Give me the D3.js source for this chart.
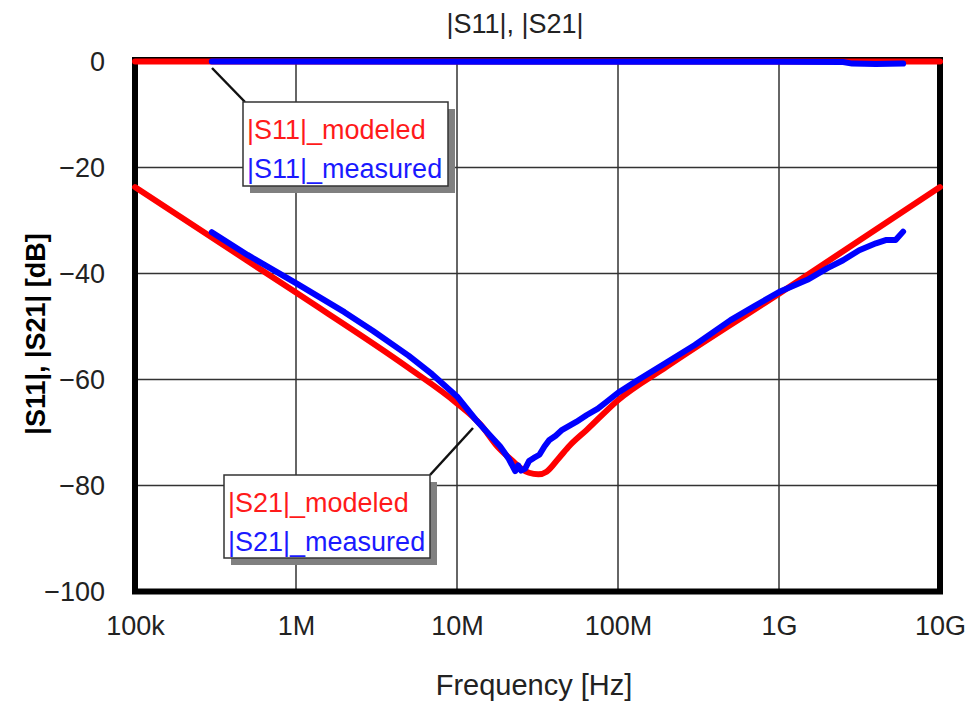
<!DOCTYPE html>
<html>
<head>
<meta charset="utf-8">
<script src="https://cdn.jsdelivr.net/npm/d3@7"></script>
<style>
  body { margin: 0; background: #fff; }
  text { font-family: "Liberation Sans", Arial, sans-serif; }
</style>
</head>
<body>
<div id="chart"></div>
<script>
// frequency ticks
let xTicks = [1e5, 1e6, 1e7, 1e8, 1e9, 1e10];
let xTickLabels = ['100k', '1M', '10M', '100M', '1G', '10G'];
let yTicks = [0, -20, -40, -60, -80, -100];

// |S11| modeled: flat at 0 dB
let s11ModFreq = [1e5, 1e10];
let s11ModDb = [0, 0];

// |S11| measured
let s11MeasFreq = [3e5, 1e9, 2.5e9, 2.85e9, 4e9, 5.9e9];
let s11MeasDb = [0, -0.05, -0.1, -0.4, -0.45, -0.4];

// |S21| modeled
let s21ModFreq = [1e5, 1e6, 5e6, 1e7, 1.4e7, 1.8e7, 2.2e7, 2.5e7, 2.8e7, 3.2e7, 3.6e7, 4.3e7, 5e7, 6.4e7, 1e8, 2e8, 1e9, 1e10];
let s21ModDb = [-23.7, -43.6, -57.8, -64.5, -68.5, -72.8, -75.3, -76.8, -77.6, -77.9, -77.4, -74.8, -72.5, -69.5, -63.9, -57.6, -43.8, -23.7];

// |S21| measured
let s21MeasFreq = [3e5, 5e5, 1e6, 2e6, 3e6, 5e6, 7e6, 1e7, 1.3e7, 1.6e7, 1.85e7, 2.1e7, 2.3e7, 2.4e7, 2.5e7, 2.65e7,
    2.8e7, 3.0e7, 3.25e7, 3.5e7, 3.75e7, 4.1e7, 4.5e7, 5.5e7, 6.4e7, 7.5e7, 8.5e7, 1e8, 1.3e8, 2e8, 3e8, 5e8, 7e8,
    1e9, 1.5e9, 2e9, 2.5e9, 3.15e9, 4e9, 4.6e9, 5.3e9, 5.9e9];
let s21MeasDb = [-32.2, -36.5, -41.8, -47.3, -50.8, -55.5, -59, -63.2, -67.5, -70.5, -72.6, -75, -77.3, -76.2, -77.2, -76.8,
    -75.4, -74.8, -74.2, -72.6, -71.4, -70.6, -69.5, -68, -66.7, -65.5, -64.2, -62.5, -60.3, -56.8, -53.5, -48.8, -46.2,
    -43.5, -41.2, -39, -37.5, -35.6, -34.3, -33.7, -33.7, -32.1];

let svg = d3.select('#chart')
    .append('svg')
    .attr('width', 970)
    .attr('height', 702);

let plotLeft = 135, plotRight = 940, plotTop = 61.5, plotBottom = 591.5;

let x = d3.scaleLog().domain([1e5, 1e10]).range([plotLeft, plotRight]);
let y = d3.scaleLinear().domain([-100, 0]).range([plotBottom, plotTop]);

// grid
svg.append('g')
    .selectAll('line')
    .data(xTicks.slice(1, -1))
    .enter().append('line')
    .attr('x1', d => x(d)).attr('x2', d => x(d))
    .attr('y1', plotTop).attr('y2', plotBottom)
    .attr('stroke', '#333').attr('stroke-width', 1.5);
svg.append('g')
    .selectAll('line')
    .data(yTicks.slice(1, -1))
    .enter().append('line')
    .attr('x1', plotLeft).attr('x2', plotRight)
    .attr('y1', d => y(d)).attr('y2', d => y(d))
    .attr('stroke', '#333').attr('stroke-width', 1.5);

// frame
svg.append('rect')
    .attr('x', plotLeft).attr('y', plotTop - 1.5)
    .attr('width', plotRight - plotLeft).attr('height', plotBottom - plotTop + 1.5)
    .attr('fill', 'none').attr('stroke', '#000').attr('stroke-width', 6);

// axes (labels only)
let xAxis = d3.axisBottom(x)
    .tickValues(xTicks)
    .tickFormat((d, i) => xTickLabels[i])
    .tickSize(0).tickPadding(24);
let gx = svg.append('g').attr('transform', 'translate(0,' + plotBottom + ')').call(xAxis);
gx.select('.domain').remove();
gx.selectAll('text').attr('font-size', 27).attr('fill', '#222')
    .style('font-family', '"Liberation Sans", Arial, sans-serif');

let yAxis = d3.axisLeft(y)
    .tickValues(yTicks)
    .tickFormat(d => d < 0 ? '\u2212' + Math.abs(d) : d)
    .tickSize(0).tickPadding(30);
let gy = svg.append('g').attr('transform', 'translate(' + plotLeft + ',0)').call(yAxis);
gy.select('.domain').remove();
gy.selectAll('text').attr('font-size', 27).attr('fill', '#222')
    .style('font-family', '"Liberation Sans", Arial, sans-serif');

// lines
function zip (f, v) {
    return f.map((d, i) => [d, v[i]]);
}
let lineLin = d3.line().x(d => x(d[0])).y(d => y(d[1]));
let lineSmooth = d3.line().x(d => x(d[0])).y(d => y(d[1])).curve(d3.curveMonotoneX);

function drawSeries (data, color, gen) {
    svg.append('path')
        .datum(data)
        .attr('d', gen)
        .attr('fill', 'none')
        .attr('stroke', color)
        .attr('stroke-width', 6)
        .attr('stroke-linejoin', 'round')
        .attr('stroke-linecap', 'round');
}
drawSeries(zip(s11ModFreq, s11ModDb), '#ff0000', lineLin);
drawSeries(zip(s11MeasFreq, s11MeasDb), '#0000ff', lineLin);
drawSeries(zip(s21ModFreq, s21ModDb), '#ff0000', lineSmooth);
drawSeries(zip(s21MeasFreq, s21MeasDb), '#0000ff', lineLin);

// legend boxes with leader lines
function legendBox (bx, by, bw, bh, lead, labels) {
    svg.append('line')
        .attr('x1', lead[0]).attr('y1', lead[1])
        .attr('x2', lead[2]).attr('y2', lead[3])
        .attr('stroke', '#111').attr('stroke-width', 2.5);
    svg.append('rect')
        .attr('x', bx + 7).attr('y', by + 7)
        .attr('width', bw).attr('height', bh)
        .attr('fill', '#808080');
    svg.append('rect')
        .attr('x', bx).attr('y', by)
        .attr('width', bw).attr('height', bh)
        .attr('fill', '#fff').attr('stroke', '#333').attr('stroke-width', 1.5);
    labels.forEach((l, i) => {
        svg.append('text')
            .attr('x', bx + 4)
            .attr('y', by + 37 + i * 39)
            .attr('font-size', 27)
            .attr('fill', l.color)
            .text(l.text);
    });
}
legendBox(243, 102, 205, 84, [212, 68, 245, 102], [
    { text: '|S11|_modeled', color: '#ff1a1a' },
    { text: '|S11|_measured', color: '#1a1aff' }
]);
legendBox(224, 475, 206, 83, [430, 475, 473, 428], [
    { text: '|S21|_modeled', color: '#ff1a1a' },
    { text: '|S21|_measured', color: '#1a1aff' }
]);

// titles
svg.append('text')
    .attr('x', 515).attr('y', 33)
    .attr('text-anchor', 'middle')
    .attr('font-size', 27).attr('fill', '#222')
    .text('|S11|, |S21|');
svg.append('text')
    .attr('x', 534).attr('y', 695)
    .attr('text-anchor', 'middle')
    .attr('font-size', 29).attr('fill', '#222')
    .text('Frequency [Hz]');
svg.append('text')
    .attr('transform', 'translate(45,334) rotate(-90)')
    .attr('text-anchor', 'middle')
    .attr('font-size', 27).attr('font-weight', 'bold').attr('fill', '#000')
    .text('|S11|, |S21| [dB]');
</script>
</body>
</html>
